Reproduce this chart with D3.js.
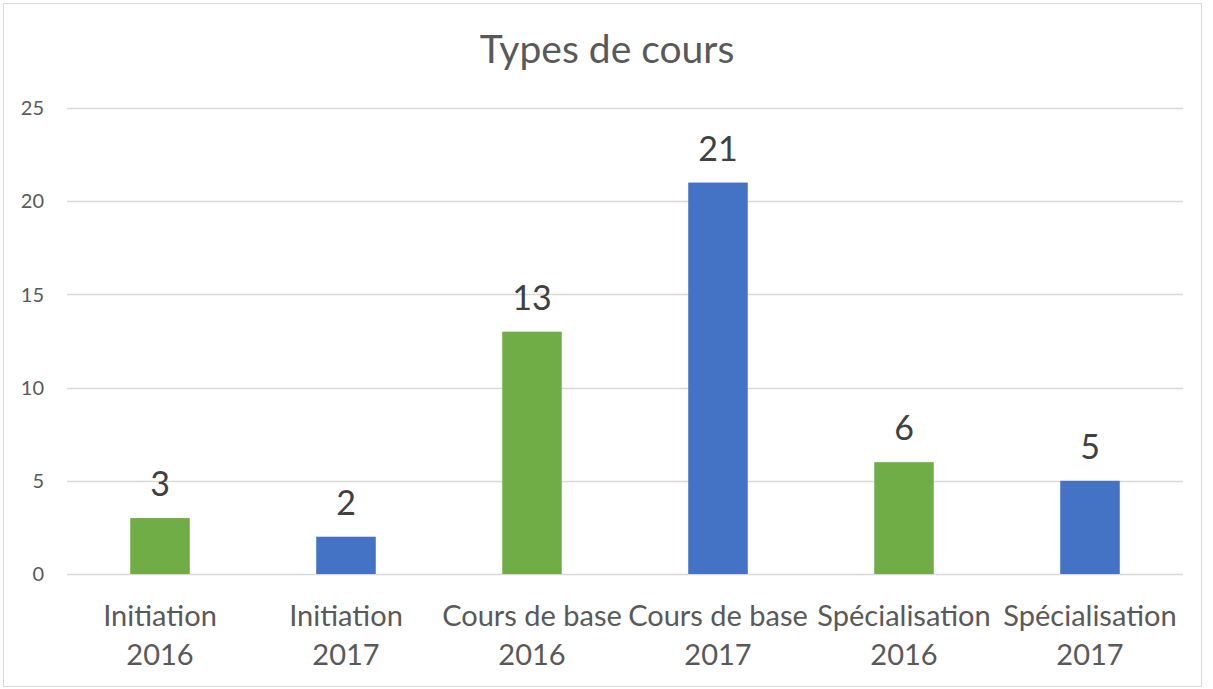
<html>
<head>
<meta charset="utf-8"/>
<script src="https://d3js.org/d3.v7.min.js"></script>
</head>
<body style="margin:0">
<div id="v"></div>
<script type="text/javascript">
var categories = [["Initiation", "2016"], ["Initiation", "2017"], ["Cours de base", "2016"], ["Cours de base", "2017"], ["Spécialisation", "2016"], ["Spécialisation", "2017"]];
var values = [3, 2, 13, 21, 6, 5];
var barColors = ["#70AD47", "#4472C4", "#70AD47", "#4472C4", "#70AD47", "#4472C4"];
var yTicks = [0, 5, 10, 15, 20, 25];
var title = "Types de cours";

(function() {
  var width = 1213, height = 689;
  var font = "Lato, 'Open Sans', sans-serif";
  var svg = d3.select("#v").append("svg")
    .attr("width", width)
    .attr("height", height);

  svg.append("rect")
    .attr("x", 3.5).attr("y", 3.5)
    .attr("width", 1198).attr("height", 683)
    .attr("fill", "#fff")
    .attr("stroke", "#d9d9d9");

  var x = d3.scaleBand()
    .domain(d3.range(categories.length))
    .range([67, 1183])
    .paddingInner(0.68)
    .paddingOuter(0.34);
  var y = d3.scaleLinear().domain([0, 25]).range([574, 108]);

  // grid
  svg.append("g").selectAll("line")
    .data(yTicks).enter()
    .append("line")
    .attr("x1", 67).attr("x2", 1183)
    .attr("y1", function(d) { return Math.round(y(d)) + 0.5; })
    .attr("y2", function(d) { return Math.round(y(d)) + 0.5; })
    .attr("stroke", "#d9d9d9")
    .attr("stroke-width", 1.5);

  // y labels
  svg.append("g").selectAll("text")
    .data(yTicks).enter()
    .append("text")
    .attr("x", 44)
    .attr("y", function(d) { return y(d); })
    .attr("dy", "0.36em")
    .attr("text-anchor", "end")
    .style("font-family", font)
    .style("font-size", "20px")
    .attr("fill", "#595959")
    .text(function(d) { return d; });

  // bars
  svg.append("g").selectAll("rect")
    .data(values).enter()
    .append("rect")
    .attr("x", function(d, i) { return x(i); })
    .attr("width", x.bandwidth())
    .attr("y", function(d) { return y(d); })
    .attr("height", function(d) { return y(0) - y(d); })
    .attr("fill", function(d, i) { return barColors[i]; });

  // value labels
  svg.append("g").selectAll("text")
    .data(values).enter()
    .append("text")
    .attr("x", function(d, i) { return x(i) + x.bandwidth() / 2; })
    .attr("y", function(d) { return y(d) - 22; })
    .attr("text-anchor", "middle")
    .style("font-family", font)
    .style("font-size", "34px")
    .attr("fill", "#404040")
    .text(function(d) { return d; });

  // category labels
  var cat = svg.append("g").selectAll("text")
    .data(categories).enter()
    .append("text")
    .attr("text-anchor", "middle")
    .style("font-family", font)
    .style("font-size", "29px")
    .attr("fill", "#595959");
  cat.append("tspan")
    .attr("x", function(d, i) { return x(i) + x.bandwidth() / 2; })
    .attr("y", 626)
    .text(function(d) { return d[0]; });
  cat.append("tspan")
    .attr("x", function(d, i) { return x(i) + x.bandwidth() / 2; })
    .attr("y", 665)
    .text(function(d) { return d[1]; });

  svg.append("text")
    .attr("x", 607)
    .attr("y", 63)
    .attr("text-anchor", "middle")
    .style("font-family", font)
    .style("font-size", "39px")
    .attr("fill", "#595959")
    .text(title);
})();
</script>
</body>
</html>
